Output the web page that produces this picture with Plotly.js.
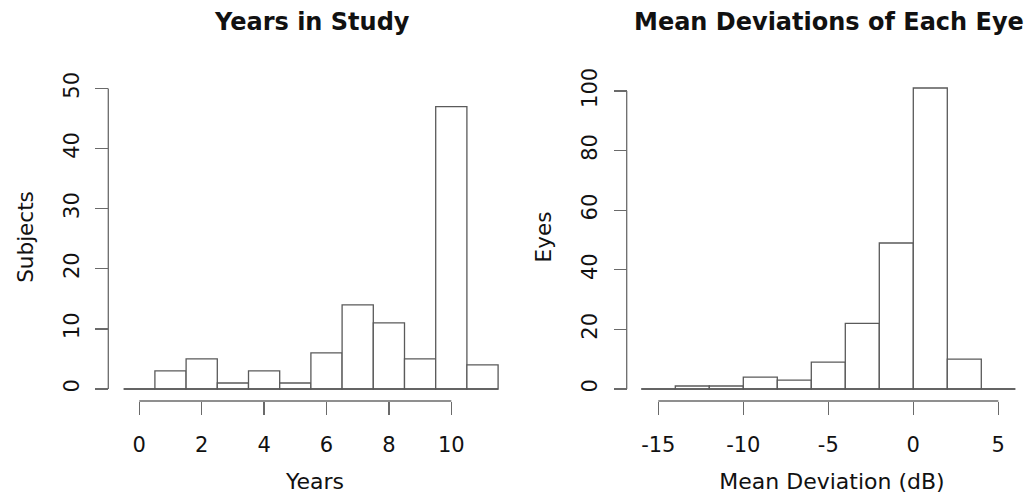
<!DOCTYPE html>
<html>
<head>
<meta charset="utf-8">
<script src="https://cdn.plot.ly/plotly-3.0.1.min.js"></script>
<style>html,body{margin:0;padding:0;background:#fff;}#chart{width:1034px;height:500px;}</style>
</head>
<body>
<div id="chart"></div>
<script>
// ---- data ----
var yearsCenters = [0, 1, 2, 3, 4, 5, 6, 7, 8, 9, 10, 11];
var yearsCounts  = [0, 3, 5, 1, 3, 1, 6, 14, 11, 5, 47, 4];
var yearsBinWidth = 1;
var yearsXTicks = [0, 2, 4, 6, 8, 10];
var yearsYTicks = [0, 10, 20, 30, 40, 50];

var mdCenters = [-15, -13, -11, -9, -7, -5, -3, -1, 1, 3, 5];
var mdCounts  = [0, 1, 1, 4, 3, 9, 22, 49, 101, 10, 0];
var mdBinWidth = 2;
var mdXTicks = [-15, -10, -5, 0, 5];
var mdYTicks = [0, 20, 40, 60, 80, 100];

var titleLeft = "Years in Study";
var titleRight = "Mean Deviations of Each Eye";

// ---- layout helpers (pixel -> paper) ----
var W = 1034, H = 500;
function fx(p) { return p / W; }
function fy(p) { return 1 - p / H; }

var axisCol = '#6a6a6a';
var barLine = '#5a5a5a';
var FONT = 'DejaVu Sans, Liberation Sans, Arial, sans-serif';

// pixel geometry
var L = { x0px: 139.3, xppu: 31.2, y0px: 389, yppu: 6.01, dl: 118, dr: 512, yaxisPx: 108.3 };
var R = { x0px: 658.3, xv0: -15, xppu: 17.0, y0px: 389, yppu: 2.98, dl: 634, dr: 1030, yaxisPx: 626.7 };
var dTop = 78, dBot = 396, xAxisPx = 401;

function xr(g, v0) { return [v0 + (g.dl - g.x0px) / g.xppu, v0 + (g.dr - g.x0px) / g.xppu]; }
function yr(g) { return [-(dBot - g.y0px) / g.yppu, (g.y0px - dTop) / g.yppu]; }

var traces = [
  { type: 'bar', x: yearsCenters, y: yearsCounts, width: yearsBinWidth,
    marker: { color: '#ffffff', line: { color: barLine, width: 1.3 } },
    xaxis: 'x', yaxis: 'y', hoverinfo: 'x+y', showlegend: false },
  { type: 'scatter', mode: 'lines',
    x: [yearsCenters[0] - yearsBinWidth / 2, yearsCenters[yearsCenters.length - 1] + yearsBinWidth / 2],
    y: [0, 0], line: { color: barLine, width: 1.3 },
    xaxis: 'x', yaxis: 'y', hoverinfo: 'skip', showlegend: false },
  { type: 'bar', x: mdCenters, y: mdCounts, width: mdBinWidth,
    marker: { color: '#ffffff', line: { color: barLine, width: 1.3 } },
    xaxis: 'x2', yaxis: 'y2', hoverinfo: 'x+y', showlegend: false },
  { type: 'scatter', mode: 'lines',
    x: [mdCenters[0] - mdBinWidth / 2, mdCenters[mdCenters.length - 1] + mdBinWidth / 2],
    y: [0, 0], line: { color: barLine, width: 1.3 },
    xaxis: 'x2', yaxis: 'y2', hoverinfo: 'skip', showlegend: false }
];

function xAxis(domain, range, ticks, title) {
  return {
    domain: domain, range: range, anchor: 'free', position: fy(xAxisPx),
    showgrid: false, zeroline: false, showline: false,
    tickmode: 'array', tickvals: ticks, ticktext: ticks.map(String),
    ticks: 'outside', ticklen: 13, tickwidth: 1.3, tickcolor: axisCol,
    ticklabelstandoff: 12,
    tickfont: { family: FONT, size: 21, color: '#111' },
    title: { text: title, font: { family: FONT, size: 22, color: '#111' }, standoff: 17 },
    fixedrange: true, automargin: false
  };
}
function yAxis(domain, range, ticks, title, pos) {
  return {
    domain: domain, range: range, anchor: 'free', position: pos,
    showgrid: false, zeroline: false, showline: false,
    tickmode: 'array', tickvals: ticks, ticktext: ticks.map(String),
    ticks: 'outside', ticklen: 13, tickwidth: 1.3, tickcolor: axisCol,
    tickangle: -90, ticklabelstandoff: 8,
    tickfont: { family: FONT, size: 21, color: '#111' },
    title: { text: title, font: { family: FONT, size: 21.5, color: '#111' }, standoff: 19 },
    fixedrange: true, automargin: false
  };
}

var yDom = [fy(dBot), fy(dTop)];

var layout = {
  width: W, height: H,
  margin: { l: 0, r: 0, t: 0, b: 0, pad: 0 },
  paper_bgcolor: '#ffffff', plot_bgcolor: 'rgba(0,0,0,0)',
  showlegend: false, bargap: 0,
  xaxis: xAxis([fx(L.dl), fx(L.dr)], xr(L, 0), yearsXTicks, 'Years'),
  yaxis: yAxis(yDom, yr(L), yearsYTicks, 'Subjects', fx(L.yaxisPx)),
  xaxis2: xAxis([fx(R.dl), fx(R.dr)], xr(R, R.xv0), mdXTicks, 'Mean Deviation (dB)'),
  yaxis2: yAxis(yDom, yr(R), mdYTicks, 'Eyes', fx(R.yaxisPx)),
  shapes: [
    { type: 'line', xref: 'x', yref: 'paper', x0: yearsXTicks[0], x1: yearsXTicks[yearsXTicks.length - 1],
      y0: fy(xAxisPx), y1: fy(xAxisPx), line: { color: axisCol, width: 1.3 } },
    { type: 'line', xref: 'paper', yref: 'y', x0: fx(L.yaxisPx), x1: fx(L.yaxisPx),
      y0: yearsYTicks[0], y1: yearsYTicks[yearsYTicks.length - 1], line: { color: axisCol, width: 1.3 } },
    { type: 'line', xref: 'x2', yref: 'paper', x0: mdXTicks[0], x1: mdXTicks[mdXTicks.length - 1],
      y0: fy(xAxisPx), y1: fy(xAxisPx), line: { color: axisCol, width: 1.3 } },
    { type: 'line', xref: 'paper', yref: 'y2', x0: fx(R.yaxisPx), x1: fx(R.yaxisPx),
      y0: mdYTicks[0], y1: mdYTicks[mdYTicks.length - 1], line: { color: axisCol, width: 1.3 } }
  ],
  annotations: [
    { text: '<b>' + titleLeft + '</b>', xref: 'paper', yref: 'paper', x: fx(311.5), y: fy(22),
      xanchor: 'center', yanchor: 'middle', showarrow: false,
      font: { family: FONT, size: 24, color: '#111' } },
    { text: '<b>' + titleRight + '</b>', xref: 'paper', yref: 'paper', x: fx(828.5), y: fy(22),
      xanchor: 'center', yanchor: 'middle', showarrow: false,
      font: { family: FONT, size: 24, color: '#111' } }
  ]
};

Plotly.newPlot('chart', traces, layout, { displayModeBar: false, staticPlot: true });
</script>
</body>
</html>
